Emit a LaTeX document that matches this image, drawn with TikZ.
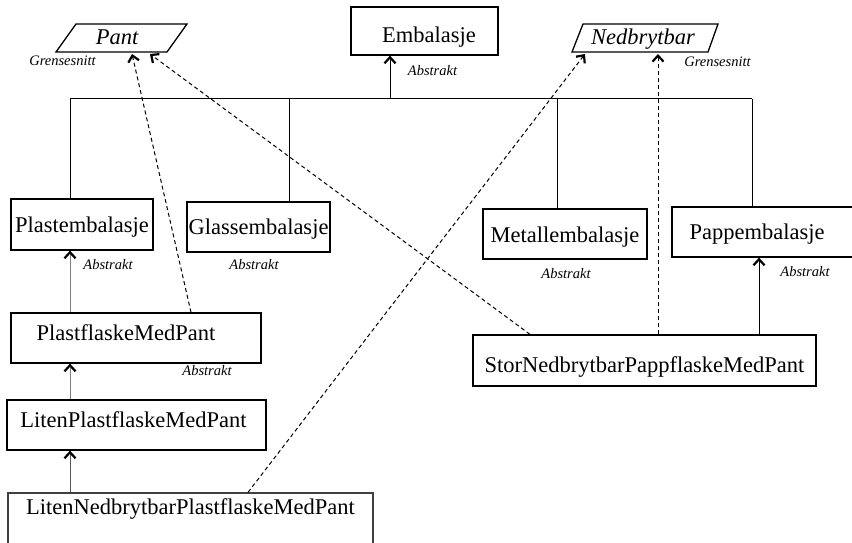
\documentclass[tikz,border=0pt]{standalone}
\usepackage{fontspec}
\setmainfont{Liberation Serif}
\usetikzlibrary{arrows.meta}
\newcommand\bxfont{\fontsize{22.5}{27}\selectfont}
\newcommand\abfont{\fontsize{14.5}{17}\selectfont\itshape}
\newcommand\iffont{\fontsize{22.5}{27}\selectfont\itshape}
\begin{document}
\begin{tikzpicture}[x=1pt,y=-1pt,
  tys/.code={\pgfmathsetmacro\tth{23+7.45+#1}\pgfmathsetmacro\ttd{23-7.45-#1}\tikzset{text height=\tth pt,text depth=\ttd pt}},
  box/.style={draw, line width=1.3pt, inner sep=0pt, font=\bxfont, tys=0},
  lbl/.style={font=\abfont, inner sep=0pt},
  iface/.style={font=\iffont, inner sep=0pt},
  conn/.style={line width=1pt},
  gentip/.style={-{Straight Barb[color=black,length=6pt,width=11pt,line width=2.2pt]}},
  dsh/.style={line width=1pt, dash pattern=on 4pt off 3pt}]
\useasboundingbox (0,0) rectangle (852,543);
\clip (0,0) rectangle (852,543);

% interfaces
\draw[line width=1.3pt] (56,52) -- (167,52) -- (187,24) -- (76,24) -- cycle;
\node[iface] (pant) at (117,37) {Pant};
\draw[line width=1.3pt] (572,52) -- (708,52) -- (718,24) -- (583,24) -- cycle;
\node[iface] (ned) at (643,39.2) {Nedbrytbar};
\node[lbl] (gl) at (62.5,61) {Grensesnitt};
\node[lbl] (gr) at (717.5,62) {Grensesnitt};
\coordinate (pantA) at (132,54);
\coordinate (pantB) at (150,54);
\coordinate (nedA) at (585,54);
\coordinate (nedB) at (658,54);

% classes
\node[box, minimum width=147pt, minimum height=48pt, tys=4.5, execute at begin node={\hspace*{9pt}}] (emb) at (424.5,31) {Embalasje};
\node[box, minimum width=142pt, minimum height=51pt, tys=0.5] (plast) at (82,224.5) {Plastembalasje};
\node[box, minimum width=143pt, minimum height=50pt, tys=0] (glass) at (258.5,227) {Glassembalasje};
\node[box, minimum width=164pt, minimum height=50pt, tys=1] (metall) at (565,234) {Metallembalasje};
\node[box, minimum width=190pt, minimum height=50pt, tys=0, execute at end node={\hspace*{20pt}}] (pappe) at (767,232) {Pappembalasje};
\node[box, minimum width=250pt, minimum height=50pt, tys=-5, execute at end node={\hspace*{20pt}}] (plastfl) at (136,338) {PlastflaskeMedPant};
\node[box, minimum width=259pt, minimum height=50pt, tys=-4.5, execute at end node={\hspace*{6pt}}] (litenpl) at (136.5,425) {LitenPlastflaskeMedPant};
\node[box, draw=black!75, minimum width=365pt, minimum height=55pt, tys=-13] (litenned) at (190.5,520.5) {LitenNedbrytbarPlastflaskeMedPant};
\node[box, minimum width=343pt, minimum height=51pt, tys=4.5] (stor) at (644.5,360.5) {StorNedbrytbarPappflaskeMedPant};

% Abstrakt labels
\node[lbl] (a1) at (432.5,71) {Abstrakt};
\node[lbl] (a2) at (108,265) {Abstrakt};
\node[lbl] (a3) at (254,265) {Abstrakt};
\node[lbl] (a4) at (207,371) {Abstrakt};
\node[lbl] (a5) at (566,274) {Abstrakt};
\node[lbl] (a6) at (805,272) {Abstrakt};

% generalization tree
\coordinate (busL) at (70,99);
\coordinate (busR) at (752,99);
\coordinate (busE) at (390,99);
\coordinate (busG) at (289,99);
\coordinate (busM) at (557,99);
\draw[conn] (busL) -- (busR);
\draw[conn] (busL) -- (busL |- plast.north);
\draw[conn] (busG) -- (busG |- glass.north);
\draw[conn] (busM) -- (busM |- metall.north);
\draw[conn] (busR) -- (busR |- pappe.north);
\draw[conn, gentip] (busE) -- (busE |- emb.south);

% inheritance arrows
\coordinate (colL) at (70,0);
\draw[conn, gray, gentip] (colL |- plastfl.north) -- (colL |- plast.south);
\draw[conn, gray, gentip] (colL |- litenpl.north) -- (colL |- plastfl.south);
\draw[conn, black!65, gentip] (colL |- litenned.north) -- (colL |- litenpl.south);
\coordinate (colP) at (759,0);
\draw[conn, gentip] (colP |- stor.north) -- (colP |- pappe.south);

% realization (dashed)
\draw[dsh, gentip] ([xshift=55pt]plastfl.north) -- (pantA);
\draw[dsh, gentip] ([xshift=-114.5pt]stor.north) -- (pantB);
\draw[dsh, gentip] ([xshift=57.5pt]litenned.north) -- (nedA);
\draw[dsh, gentip] ([xshift=13.5pt]stor.north) -- (nedB);
\end{tikzpicture}
\end{document}
